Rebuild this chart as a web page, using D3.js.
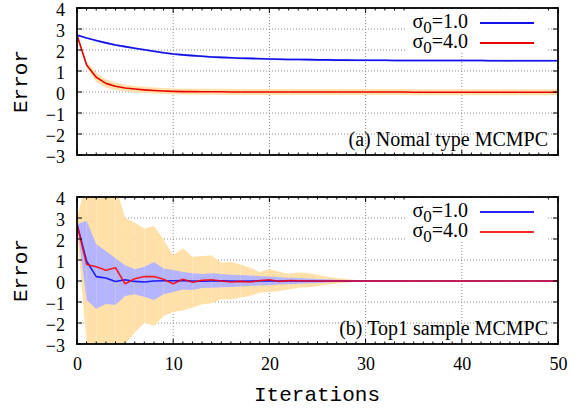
<!DOCTYPE html>
<html>
<head>
<meta charset="utf-8">
<script src="https://cdn.jsdelivr.net/npm/d3@7"></script>
<style>
  body { margin: 0; background: #fff; }
  svg { display: block; }
</style>
</head>
<body>
<div id="chart"></div>
<script>
"use strict";

// iterations 0..50
const iters = d3.range(0, 51);
const xTicks = [0, 10, 20, 30, 40, 50];
const yTicks = [-3, -2, -1, 0, 1, 2, 3, 4];
const legendNames = ["1.0", "4.0"];

// (a) Nomal type MCMPC
const topMean1 = [2.71, 2.57, 2.45, 2.34, 2.24, 2.16, 2.08, 2.01, 1.94, 1.87, 1.81,
  1.77, 1.73, 1.70, 1.67, 1.65, 1.63, 1.61, 1.60, 1.58, 1.57,
  1.56, 1.55, 1.55, 1.54, 1.53, 1.53, 1.52, 1.52, 1.51, 1.51,
  1.51, 1.51, 1.50, 1.50, 1.50, 1.50, 1.50, 1.50, 1.50, 1.50,
  1.50, 1.50, 1.49, 1.49, 1.49, 1.49, 1.49, 1.49, 1.49, 1.49];
const topSpread1 = [0.01, 0.03, 0.04, 0.05, 0.05, 0.05, 0.05, 0.05, 0.05, 0.05, 0.05,
  0.05, 0.05, 0.05, 0.05, 0.05, 0.05, 0.05, 0.05, 0.05, 0.05,
  0.05, 0.05, 0.05, 0.05, 0.05, 0.05, 0.05, 0.05, 0.05, 0.05,
  0.05, 0.05, 0.05, 0.05, 0.05, 0.05, 0.05, 0.05, 0.05, 0.05,
  0.05, 0.05, 0.05, 0.05, 0.05, 0.05, 0.05, 0.05, 0.05, 0.05];
const topMean4 = [2.71, 1.29, 0.70, 0.41, 0.27, 0.19, 0.14, 0.10, 0.07, 0.05, 0.03,
  0.02, 0.02, 0.01, 0.01, 0.01, 0.00, 0.00, 0.00, 0.00, 0.00,
  0.00, 0.00, 0.00, 0.00, 0.00, 0.00, 0.00, 0.00, 0.00, 0.00,
  0.00, 0.00, 0.00, 0.00, -0.01, -0.01, -0.01, -0.01, -0.01, -0.01,
  -0.01, -0.01, -0.01, -0.01, -0.01, -0.01, -0.01, -0.01, -0.01, -0.01];
const topSpread4 = [0.02, 0.15, 0.22, 0.20, 0.18, 0.16, 0.15, 0.15, 0.14, 0.14, 0.14,
  0.14, 0.14, 0.14, 0.14, 0.14, 0.14, 0.14, 0.14, 0.14, 0.14,
  0.14, 0.14, 0.14, 0.14, 0.14, 0.14, 0.14, 0.14, 0.14, 0.14,
  0.14, 0.14, 0.14, 0.14, 0.14, 0.14, 0.14, 0.14, 0.14, 0.14,
  0.14, 0.14, 0.14, 0.14, 0.14, 0.14, 0.14, 0.14, 0.14, 0.14];

// (b) Top1 sample MCMPC
const botMean1 = [2.70, 0.95, 0.21, 0.14, -0.02, 0.06, -0.02, -0.05, 0.00, 0.01, 0.01,
  0.02, 0.00, -0.01, 0.00, 0.01, 0.00, -0.01, 0.00, 0.00, 0.01,
  0.00, 0.00, 0.00, 0.00, 0.00, 0.00, 0.00, 0.00, 0.00, 0.00,
  0.00, 0.00, 0.00, 0.00, 0.00, 0.00, 0.00, 0.00, 0.00, 0.00,
  0.00, 0.00, 0.00, 0.00, 0.00, 0.00, 0.00, 0.00, 0.00, 0.00];
const botHi1 = [2.70, 2.87, 1.75, 1.43, 1.08, 0.75, 0.56, 0.68, 0.90, 0.59, 0.52,
  0.43, 0.37, 0.33, 0.37, 0.33, 0.30, 0.28, 0.26, 0.24, 0.22,
  0.18, 0.15, 0.14, 0.12, 0.10, 0.08, 0.06, 0.05, 0.04, 0.03,
  0.02, 0.02, 0.01, 0.01, 0.01, 0.01, 0.01, 0.01, 0.01, 0.01,
  0.01, 0.01, 0.01, 0.01, 0.01, 0.01, 0.01, 0.01, 0.01, 0.01];
const botLo1 = [2.70, -0.90, -1.32, -1.10, -1.13, -0.71, -0.63, -0.75, -0.90, -0.63, -0.52,
  -0.40, -0.43, -0.33, -0.32, -0.30, -0.28, -0.26, -0.24, -0.22, -0.20,
  -0.17, -0.15, -0.13, -0.11, -0.09, -0.07, -0.05, -0.04, -0.03, -0.02,
  -0.02, -0.01, -0.01, -0.01, -0.01, -0.01, -0.01, -0.01, -0.01, -0.01,
  -0.01, -0.01, -0.01, -0.01, -0.01, -0.01, -0.01, -0.01, -0.01, -0.01];
const botMean4 = [2.70, 0.79, 0.68, 0.51, 0.63, -0.13, 0.11, 0.21, 0.21, 0.08, -0.13,
  0.08, -0.06, 0.03, 0.06, 0.00, -0.05, -0.02, -0.05, 0.02, 0.06,
  -0.02, 0.02, 0.01, 0.00, 0.00, 0.00, 0.00, 0.00, 0.00, 0.00,
  0.00, 0.00, 0.00, 0.00, 0.00, 0.00, 0.00, 0.00, 0.00, 0.00,
  0.00, 0.00, 0.00, 0.00, 0.00, 0.00, 0.00, 0.00, 0.00, 0.00];
const botHi4 = [3.00, 4.80, 5.00, 5.00, 4.56, 3.00, 2.78, 2.49, 2.62, 1.98, 1.22,
  1.56, 1.16, 1.19, 1.22, 0.87, 0.90, 0.79, 0.63, 0.43, 0.56,
  0.44, 0.35, 0.40, 0.38, 0.28, 0.20, 0.14, 0.09, 0.05, 0.03,
  0.02, 0.01, 0.01, 0.01, 0.01, 0.01, 0.01, 0.01, 0.01, 0.01,
  0.01, 0.01, 0.01, 0.01, 0.01, 0.01, 0.01, 0.01, 0.01, 0.01];
const botLo4 = [2.40, -3.00, -3.60, -3.50, -3.40, -3.00, -2.46, -1.98, -2.14, -1.67, -1.48,
  -1.40, -1.27, -1.11, -1.06, -0.87, -0.87, -0.79, -0.71, -0.56, -0.52,
  -0.48, -0.40, -0.32, -0.30, -0.25, -0.18, -0.12, -0.08, -0.05, -0.03,
  -0.02, -0.01, -0.01, -0.01, -0.01, -0.01, -0.01, -0.01, -0.01, -0.01,
  -0.01, -0.01, -0.01, -0.01, -0.01, -0.01, -0.01, -0.01, -0.01, -0.01];

const W = 584, H = 409;
const left = 77, right = 558;

const svg = d3.select("#chart").append("svg")
  .attr("width", W).attr("height", H);

const x = d3.scaleLinear().domain([0, 50]).range([left, right]);

function panel(top, bottom, id, cfg) {
  const y = d3.scaleLinear().domain([-3, 4]).range([bottom, top]);
  const g = svg.append("g");

  g.append("clipPath").attr("id", id)
    .append("rect").attr("x", left).attr("y", top)
    .attr("width", right - left).attr("height", bottom - top);

  // grid (dotted, behind data)
  g.append("g").selectAll("line").data(yTicks.slice(1, -1)).enter().append("line")
    .attr("x1", left).attr("x2", right)
    .attr("y1", d => y(d)).attr("y2", d => y(d))
    .attr("stroke", "#8a8a8a").attr("stroke-width", 1).attr("stroke-dasharray", "1,2");
  g.append("g").selectAll("line").data(xTicks.slice(1, -1)).enter().append("line")
    .attr("x1", d => x(d)).attr("x2", d => x(d))
    .attr("y1", top).attr("y2", bottom)
    .attr("stroke", "#8a8a8a").attr("stroke-width", 1).attr("stroke-dasharray", "1,2");

  const data = g.append("g").attr("clip-path", `url(#${id})`);

  // bands drawn segment by segment, like gnuplot filledcurves
  cfg.bands.forEach(b => {
    const area = d3.area().x(d => x(d.i)).y0(d => y(d.lo)).y1(d => y(d.hi));
    for (let k = 0; k < iters.length - 1; k++) {
      const seg = [k, k + 1].map(j => ({ i: iters[j], lo: b.lo[j], hi: b.hi[j] }));
      data.append("path").attr("d", area(seg)).attr("fill", b.color);
    }
  });

  const line = d3.line().x((d, i) => x(iters[i])).y(d => y(d));
  cfg.lines.forEach(l => {
    data.append("path").attr("d", line(l.values))
      .attr("fill", "none").attr("stroke", l.color)
      .attr("stroke-width", 1.6).attr("stroke-opacity", l.opacity)
      .attr("stroke-linejoin", "round");
  });

  // frame ticks
  const tickG = g.append("g").attr("stroke", "#000").attr("stroke-width", 1);
  iters.forEach(v => {
    const len = v % 10 === 0 ? 5 : 2.5;
    tickG.append("line").attr("x1", x(v)).attr("x2", x(v)).attr("y1", bottom).attr("y2", bottom - len);
    tickG.append("line").attr("x1", x(v)).attr("x2", x(v)).attr("y1", top).attr("y2", top + len);
  });
  yTicks.forEach(v => {
    tickG.append("line").attr("x1", left).attr("x2", left + 5).attr("y1", y(v)).attr("y2", y(v));
    tickG.append("line").attr("x1", right).attr("x2", right - 5).attr("y1", y(v)).attr("y2", y(v));
  });

  // y axis labels (no axis line, frame drawn below)
  const yAxis = d3.axisLeft(y).tickValues(yTicks).tickSize(0).tickPadding(12)
    .tickFormat(d3.format("d"));
  g.append("g").attr("transform", `translate(${left},0)`).call(yAxis)
    .call(s => s.select(".domain").remove())
    .selectAll("text")
    .attr("dy", "0.4em")
    .attr("font-family", "'Liberation Serif', serif").attr("font-size", 18)
    .attr("fill", "#000");

  if (cfg.xLabels) {
    const xAxis = d3.axisBottom(x).tickValues(xTicks).tickSize(0).tickPadding(13);
    g.append("g").attr("transform", `translate(0,${bottom})`).call(xAxis)
      .call(s => s.select(".domain").remove())
      .selectAll("text")
      .attr("font-family", "'Liberation Serif', serif").attr("font-size", 18)
      .attr("fill", "#000");
  }

  g.append("text")
    .attr("transform", `translate(27,${(top + bottom) / 2}) rotate(-90)`)
    .attr("text-anchor", "middle")
    .attr("font-family", "'Liberation Mono', monospace").attr("font-size", 21)
    .text("Error");

  // opaque key
  g.append("rect").attr("x", 405).attr("y", top + 1)
    .attr("width", 141).attr("height", 43).attr("fill", "#fff");
  cfg.lines.forEach((l, i) => {
    const ly = top + 15 + i * 20;
    const t = g.append("text").attr("x", 468).attr("y", ly + 5)
      .attr("text-anchor", "end")
      .attr("font-family", "'Liberation Serif', serif").attr("font-size", 20);
    t.append("tspan").text("σ");
    t.append("tspan").attr("dy", 5).attr("font-size", 17).text("0");
    t.append("tspan").attr("dy", -5).text("=" + legendNames[i]);
    g.append("line").attr("x1", 480).attr("x2", 534).attr("y1", ly).attr("y2", ly)
      .attr("stroke", l.color).attr("stroke-opacity", l.opacity).attr("stroke-width", 2);
  });

  g.append("text").attr("x", 548).attr("y", bottom - 9)
    .attr("text-anchor", "end")
    .attr("font-family", "'Liberation Serif', serif").attr("font-size", 20)
    .text(cfg.title);

  g.append("rect").attr("x", left).attr("y", top)
    .attr("width", right - left).attr("height", bottom - top)
    .attr("fill", "none").attr("stroke", "#000").attr("stroke-width", 1.8);
}

panel(8, 155, "clipA", {
  title: "(a) Nomal type MCMPC",
  xLabels: false,
  bands: [
    { color: "#ffe0a8", lo: topMean4.map((m, i) => m - topSpread4[i]), hi: topMean4.map((m, i) => m + topSpread4[i]) },
    { color: "#b4b4ff", lo: topMean1.map((m, i) => m - topSpread1[i]), hi: topMean1.map((m, i) => m + topSpread1[i]) }
  ],
  lines: [
    { color: "#1010e8", opacity: 1, values: topMean1 },
    { color: "#e80000", opacity: 1, values: topMean4 }
  ]
});

panel(197, 344, "clipB", {
  title: "(b) Top1 sample MCMPC",
  xLabels: true,
  bands: [
    { color: "#ffe0a8", lo: botLo4, hi: botHi4 },
    { color: "#b4b4ff", lo: botLo1, hi: botHi1 }
  ],
  lines: [
    { color: "#0000ff", opacity: 0.85, values: botMean1 },
    { color: "#ff0000", opacity: 0.85, values: botMean4 }
  ]
});

svg.append("text").attr("x", 317).attr("y", 401)
  .attr("text-anchor", "middle")
  .attr("font-family", "'Liberation Mono', monospace").attr("font-size", 21)
  .text("Iterations");
</script>
</body>
</html>
